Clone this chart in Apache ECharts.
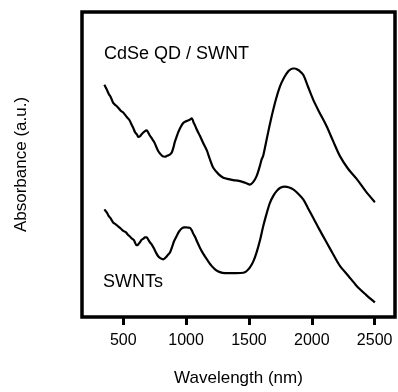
<!DOCTYPE html>
<html>
<head>
<meta charset="utf-8">
<script src="https://cdn.jsdelivr.net/npm/echarts@6/dist/echarts.min.js"></script>
<style>html,body{margin:0;padding:0;background:#fff}#c{width:398px;height:392px}</style>
</head>
<body>
<div id="c"></div>
<script>
// Wavelength (nm) and absorbance (a.u.)
const qdWavelength = [350,370,385,400,420,440,460,480,500,515,530,550,567,580,595,610,619,635,650,668,686,700,710,726,745,760,777,792,812,832,848,860,872,885,900,910,925,938,955,977,995,1010,1030,1044,1052,1060,1072,1084,1110,1136,1165,1190,1216,1260,1296,1340,1375,1420,1455,1480,1508,1535,1561,1585,1601,1614,1650,1681,1715,1747,1780,1813,1835,1850,1865,1879,1900,1932,1970,2011,2060,2118,2170,2224,2290,2357,2430,2502];
const qdAbs = [0.777,0.760,0.746,0.736,0.716,0.708,0.700,0.690,0.684,0.676,0.668,0.658,0.643,0.632,0.617,0.610,0.602,0.605,0.613,0.620,0.624,0.616,0.608,0.598,0.586,0.572,0.556,0.547,0.538,0.536,0.539,0.541,0.544,0.549,0.568,0.585,0.603,0.618,0.634,0.649,0.654,0.656,0.660,0.664,0.660,0.650,0.640,0.628,0.606,0.582,0.557,0.527,0.499,0.477,0.466,0.461,0.458,0.455,0.451,0.447,0.443,0.452,0.471,0.502,0.527,0.540,0.612,0.671,0.728,0.771,0.801,0.822,0.829,0.831,0.831,0.829,0.824,0.810,0.770,0.727,0.685,0.638,0.588,0.538,0.495,0.462,0.420,0.384];

const swntWavelength = [350,370,385,400,420,440,460,480,500,520,535,553,570,585,607,620,633,646,660,672,686,700,712,726,745,760,778,798,818,835,850,872,890,905,925,945,965,985,1000,1015,1031,1045,1058,1070,1090,1110,1136,1170,1203,1235,1269,1310,1349,1400,1455,1480,1508,1535,1561,1590,1614,1640,1667,1695,1720,1750,1786,1815,1852,1890,1932,1970,2011,2060,2118,2170,2224,2290,2357,2430,2502];
const swntAbs = [0.360,0.349,0.337,0.330,0.316,0.310,0.303,0.296,0.288,0.284,0.276,0.269,0.262,0.257,0.240,0.243,0.250,0.258,0.262,0.266,0.266,0.258,0.250,0.243,0.229,0.216,0.203,0.196,0.193,0.198,0.205,0.216,0.236,0.254,0.271,0.286,0.296,0.300,0.300,0.299,0.298,0.290,0.278,0.269,0.250,0.232,0.212,0.190,0.171,0.158,0.150,0.147,0.147,0.147,0.148,0.153,0.166,0.186,0.216,0.260,0.304,0.345,0.382,0.406,0.421,0.432,0.436,0.434,0.427,0.413,0.393,0.364,0.332,0.293,0.249,0.210,0.171,0.138,0.104,0.075,0.049];

const tickValues = [500,1000,1500,2000,2500];
const labelQD = 'CdSe QD / SWNT';
const labelSWNT = 'SWNTs';

const pair = (xs, ys) => xs.map((x, i) => [x, ys[i]]);

const chart = echarts.init(document.getElementById('c'));
const font = 'Liberation Sans, Arial, Helvetica, sans-serif';
chart.setOption({
  animation: false,
  backgroundColor: '#fff',
  grid: {left: 82, right: 3, top: 12, bottom: 74, show: true, borderColor: '#000', borderWidth: 3.5, backgroundColor: 'transparent'},
  xAxis: {
    type: 'value', min: 172, max: 2662,
    name: 'Wavelength (nm)', nameLocation: 'middle', nameGap: 53,
    nameTextStyle: {fontSize: 17, color: '#000', fontFamily: font},
    axisLine: {show: false},
    axisTick: {show: true, length: 8, lineStyle: {color: '#000', width: 3}, customValues: tickValues},
    axisLabel: {show: true, margin: 16, fontSize: 16, color: '#000', fontFamily: font, customValues: tickValues, formatter: v => String(v)},
    splitLine: {show: false}
  },
  yAxis: {
    type: 'value', min: 0, max: 1.02,
    name: 'Absorbance (a.u.)', nameLocation: 'middle', nameGap: 52,
    nameTextStyle: {fontSize: 17, color: '#000', fontFamily: font},
    axisLine: {show: false}, axisTick: {show: false}, axisLabel: {show: false}, splitLine: {show: false}
  },
  series: [
    {type: 'line', data: pair(qdWavelength, qdAbs), showSymbol: false, smooth: 0.3, lineStyle: {color: '#000', width: 2.2}},
    {type: 'line', data: pair(swntWavelength, swntAbs), showSymbol: false, smooth: 0.3, lineStyle: {color: '#000', width: 2.2}}
  ],
  graphic: [
    {type: 'text', left: 104, top: 45, style: {text: labelQD, fontSize: 18, fill: '#000', fontFamily: font}},
    {type: 'text', left: 103, top: 273, style: {text: labelSWNT, fontSize: 18, fill: '#000', fontFamily: font}}
  ]
});
</script>
</body>
</html>
